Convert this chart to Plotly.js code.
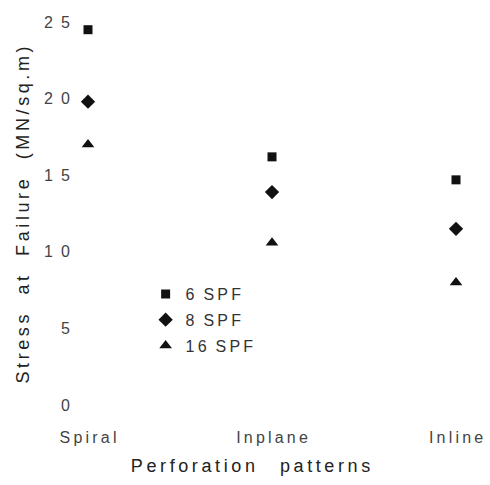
<!DOCTYPE html>
<html><head><meta charset="utf-8">
<script src="https://cdn.plot.ly/plotly-3.0.1.min.js"></script>
<style>body{margin:0;background:#fff}#c{width:490px;height:485px}</style>
</head><body><div id="c"></div>
<script>
const categories = ["Spiral", "Inplane", "Inline"];
const spf6  = [24.5, 16.2, 14.7];
const spf8  = [19.8, 13.9, 11.5];
const spf16 = [17.0, 10.6, 8.0];
const seriesNames = ["6 SPF", "8 SPF", "16 SPF"];
const yTickVals = [0, 5, 10, 15, 20, 25];
const yTickText = ["0", "5", "1 0", "1 5", "2 0", "2 5"];

const TS = "\u2009";
const NB = "\u00a0";
function spaced(s) {
  return s.split(" ").map(w => w.split("").join(TS)).join(NB + NB);
}
const pad = '<span style="color:rgba(0,0,0,0)">' + NB.repeat(8) + '.</span>';
const fam = "Liberation Sans, Arial, sans-serif";
function tr(y, name, sym, size) {
  return {x: categories, y: y, name: spaced(name), type: "scatter", mode: "markers",
    legendgroup: name,
    marker: {symbol: sym, size: size, color: "#111"}};
}
const data = [
  tr(spf6, seriesNames[0], "square", 9),
  tr(spf8, seriesNames[1], "diamond", 11),
  tr(spf16, seriesNames[2], "triangle-up", 11)
];
const layout = {
  width: 490, height: 485,
  margin: {l: 80, r: 24, t: 15, b: 70},
  paper_bgcolor: "#fff", plot_bgcolor: "#fff",
  font: {family: fam, color: "#333", size: 15},
  showlegend: true,
  legend: {x: 0.17, y: 0.345, xanchor: "left", yanchor: "top",
    bgcolor: "rgba(0,0,0,0)", font: {family: fam, size: 16, color: "#333"},
    tracegroupgap: 2, traceorder: "grouped", itemwidth: 30},
  xaxis: {type: "category", range: [-0.0435, 2.0543], showgrid: false, zeroline: false,
    showline: false, ticks: "outside", ticklen: 8, tickcolor: "rgba(0,0,0,0)",
    tickvals: categories, ticktext: categories.map(spaced),
    tickfont: {family: fam, size: 16, color: "#444"},
    title: {text: spaced("Perforation") + NB.repeat(5) + spaced("patterns") + pad, standoff: 14,
      font: {family: fam, size: 18, color: "#222"}}},
  yaxis: {range: [-0.65, 25.46], showgrid: false, zeroline: false, showline: false,
    tickvals: yTickVals, ticktext: yTickText.map(t => t.replace(" ", "\u2002")), ticks: "outside", ticklen: 6,
    tickcolor: "rgba(0,0,0,0)",
    tickfont: {family: fam, size: 16, color: "#444"},
    title: {text: spaced("Stress") + NB.repeat(4) + spaced("at") + NB.repeat(4) + spaced("Failure") + NB.repeat(4) + spaced("(MN/sq.m)"),
      standoff: 9, font: {family: fam, size: 18, color: "#222"}}}
};
Plotly.newPlot("c", data, layout, {displayModeBar: false, staticPlot: true});
</script></body></html>
